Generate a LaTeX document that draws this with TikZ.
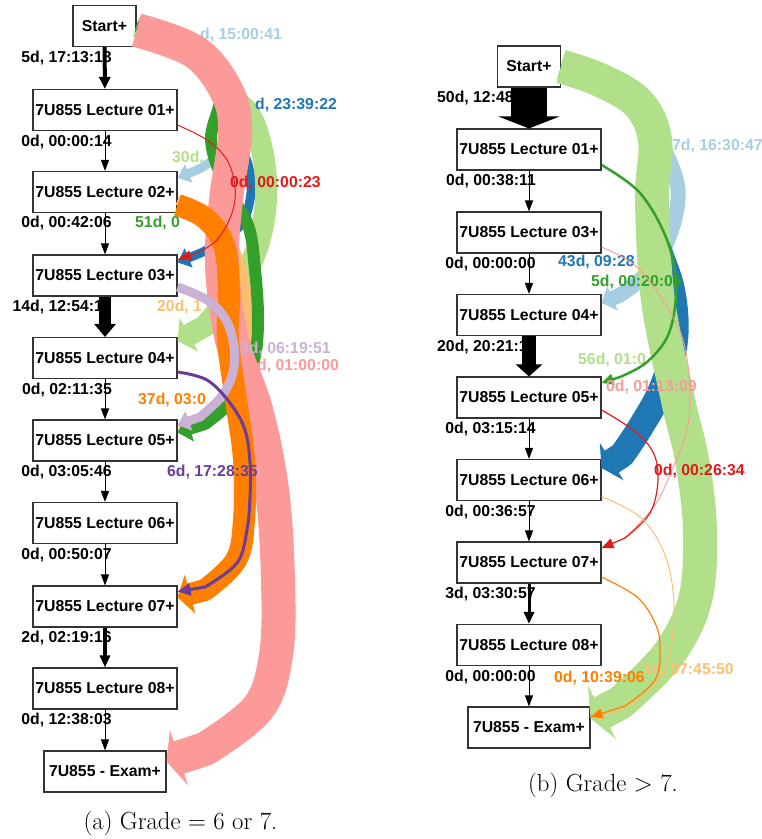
\documentclass[tikz,border=0pt]{standalone}
\usepackage{fontspec}
\newfontfamily\graphfont{Liberation Sans}
\usetikzlibrary{arrows.meta}

\newcommand{\boxfont}{\graphfont\bfseries\fontsize{15.8}{18}\selectfont}

\definecolor{lblue}{HTML}{A6CEE3}
\definecolor{dblue}{HTML}{1F78B4}
\definecolor{lgreen}{HTML}{B2DF8A}
\definecolor{dgreen}{HTML}{33A02C}
\definecolor{pink}{HTML}{FB9A99}
\definecolor{red}{HTML}{E31A1C}
\definecolor{lorange}{HTML}{FDBF6F}
\definecolor{orange}{HTML}{FF7F00}
\definecolor{lpurple}{HTML}{CAB2D6}
\definecolor{purple}{HTML}{6A3D9A}

\begin{document}
\begin{tikzpicture}[x=1pt, y=-1pt,
    box/.style={draw=black!80, line width=1.1pt, fill=white, minimum width=144pt, minimum height=41pt, inner sep=0pt, font=\boxfont},
    elab/.style={inner sep=0pt, font=\boxfont},
    flow/.style={-{Triangle[length=11pt,width=8pt]}, line width=1pt},
    band/.style={line cap=butt, line join=round},
    lane/.style={-{Triangle[length=12pt,width=10pt]}}
]
\useasboundingbox (0,0) rectangle (762,839);

% (a) grade 6 or 7
\node[box, minimum width=63pt] (sa) at (104.5,26) {Start+};
\node[box] (a01) at (105,110) {7U855 Lecture 01+};
\node[box] (a02) at (105,192) {7U855 Lecture 02+};
\node[box] (a03) at (105,275.5) {7U855 Lecture 03+};
\node[box] (a04) at (105,358) {7U855 Lecture 04+};
\node[box] (a05) at (105,440.5) {7U855 Lecture 05+};
\node[box] (a06) at (105,523) {7U855 Lecture 06+};
\node[box] (a07) at (105,606.5) {7U855 Lecture 07+};
\node[box] (a08) at (105,688.5) {7U855 Lecture 08+};
\node[box, minimum width=122pt] (ea) at (105,771.5) {7U855 - Exam+};

% tempos na sequencia principal
\node[elab, anchor=east] (la1) at (112,58) {5d, 17:13:18};
\node[elab, anchor=east] (la2) at (112,142) {0d, 00:00:14};
\node[elab, anchor=east] (la3) at (112,223) {0d, 00:42:06};
\node[elab, anchor=east] (la4) at (112,307) {14d, 12:54:17};
\node[elab, anchor=east] (la5) at (112,390) {0d, 02:11:35};
\node[elab, anchor=east] (la6) at (112,472) {0d, 03:05:46};
\node[elab, anchor=east] (la7) at (112,555) {0d, 00:50:07};
\node[elab, anchor=east] (la8) at (112,638) {2d, 02:19:16};
\node[elab, anchor=east] (la9) at (112,720) {0d, 12:38:03};

\node[elab, anchor=west, text=lblue] (lalb) at (200,35) {d, 15:00:41};

% desvios
\draw[band, lblue, line width=9pt, -{Triangle[length=12pt,width=19pt]}]
  plot[smooth, tension=0.6] coordinates {(sa.east) (195,52) (226,92) (230,128) (214,158) (197,170)} -- ([yshift=14pt]a02.east);
\draw[band, dblue, line width=9pt, -{Triangle[length=12pt,width=20pt]}]
  plot[smooth, tension=0.6] coordinates {(sa.east) (195,52) (226,92) (234,128) (249,168) (250,200) (238,228) (203,252)} -- ([yshift=13pt]a03.east);
\draw[band, lgreen, line width=22pt, -{Triangle[length=13pt,width=38pt]}]
  plot[smooth, tension=0.6] coordinates {(sa.east) (195,52) (226,92) (250,115) (263,155) (266,200) (258,245) (240,282) (205,326)} -- ([yshift=17pt]a04.east);
\draw[band, lorange, line width=10pt, -{Triangle[length=12pt,width=20pt]}]
  plot[smooth, tension=0.6] coordinates {([yshift=-8pt]a02.east) (205,215) (232,245) (246,290) (246,340) (238,385) (205,418)} -- ([yshift=14pt]a05.east);
\draw[band, dgreen, line width=12pt, -{Triangle[length=13pt,width=26pt]}]
  plot[smooth, tension=0.6] coordinates {(sa.east) (195,52) (220,92) (211,140) (225,185) (248,225) (255,270) (258,320) (254,360) (238,395) (205,424)} -- ([yshift=8pt]a05.east);
\draw[band, pink, line width=34pt, -{Triangle[length=13pt,width=58pt]}]
  plot[smooth, tension=0.6] coordinates {([yshift=-4pt]sa.east) (195,52) (227,92) (235,132) (226,200) (222,265) (232,340) (256,410) (272,490) (278,580) (276,655) (258,708) (205,749)} -- ([yshift=10pt]ea.east);

\node[elab, anchor=west, text=dblue] (ladb) at (255,105) {d, 23:39:22};
\node[elab, anchor=west, text=lgreen] (lalg) at (172,158) {30d,};
\node[elab, anchor=west, text=pink] (lapk) at (257,366) {d, 01:00:00};
\node[elab, anchor=west, text=dgreen] (ladg) at (135,223) {51d, 0};

\draw[band, orange, line width=22pt, -{Triangle[length=13pt,width=40pt]}]
  plot[smooth, tension=0.6] coordinates {([yshift=-13pt]a02.east) (205,218) (224,245) (229,290) (228,340) (236,400) (244,460) (244,520) (236,560) (205,590)} -- ([yshift=9pt]a07.east);

\node[elab, anchor=west, text=lorange] (lalo) at (157,307) {20d, 1};
\node[elab, anchor=west, text=orange] (laor) at (138,400) {37d, 03:0};

\draw[band, lpurple, line width=9pt, -{Triangle[length=12pt,width=20pt]}]
  plot[smooth, tension=0.6] coordinates {([yshift=-11.5pt]a03.east) (207,300) (226,320) (234,347) (233,372) (222,396) (200,417)} -- ([yshift=15.5pt]a05.east);
\node[elab, anchor=west, text=lpurple] (lalp) at (240,349) {5d, 06:19:51};

\draw[lane, red, line width=1pt, -{Triangle[length=14pt,width=10pt]}]
  plot[smooth, tension=0.6] coordinates {([yshift=-15pt]a01.east) (207,140) (227,160) (235,187) (232,213) (217,240) (195,254)} -- ([yshift=15.5pt]a03.east);
\node[elab, anchor=west, text=red] (lard) at (230,183) {0d, 00:00:23};
\draw[lane, purple, line width=3pt, -{Triangle[length=13pt,width=12pt]}]
  plot[smooth, tension=0.6] coordinates {([yshift=-14pt]a04.east) (207,380) (230,403) (245,430) (250,463) (250,497) (247,530) (237,563) (205,587)} -- ([yshift=15pt]a07.east);
\node[elab, anchor=west, text=purple] (lapu) at (167,472) {6d, 17:28:35};

\draw[flow, line width=4pt, -{Triangle[length=12pt,width=11pt]}] (sa) -- (a01);
\draw[flow] (a01) -- (a02);
\draw[flow] (a02) -- (a03);
\draw[flow, line width=12pt, -{Triangle[length=13pt,width=21pt]}] (a03) -- (a04);
\draw[flow] (a04) -- (a05);
\draw[flow] (a05) -- (a06);
\draw[flow] (a06) -- (a07);
\draw[flow, line width=3.5pt, -{Triangle[length=12pt,width=10pt]}] (a07) -- (a08);
\draw[flow] (a08) -- (ea);

\node (capa) at (180.5,823) {\fontsize{24.7}{30}\selectfont (a) Grade $=$ 6 or 7.};

% (b) grade > 7
\node[box, minimum width=63pt] (sb) at (529,66.5) {Start+};
\node[box] (b01) at (529,149.5) {7U855 Lecture 01+};
\node[box] (b03) at (529,232.5) {7U855 Lecture 03+};
\node[box] (b04) at (529,315) {7U855 Lecture 04+};
\node[box] (b05) at (529,397.5) {7U855 Lecture 05+};
\node[box] (b06) at (529,480) {7U855 Lecture 06+};
\node[box] (b07) at (529,562.5) {7U855 Lecture 07+};
\node[box] (b08) at (529,645) {7U855 Lecture 08+};
\node[box, minimum width=122pt] (eb) at (529,727.5) {7U855 - Exam+};

\node[elab, anchor=west] (lb1) at (437,98) {50d, 12:48};
\node[elab, anchor=east] (lb2) at (536,181) {0d, 00:38:11};
\node[elab, anchor=east] (lb3) at (536,264) {0d, 00:00:00};
\node[elab, anchor=west] (lb4) at (437,347) {20d, 20:21:1};
\node[elab, anchor=east] (lb5) at (536,429) {0d, 03:15:14};
\node[elab, anchor=east] (lb6) at (536,512) {0d, 00:36:57};
\node[elab, anchor=east] (lb7) at (536,594) {3d, 03:30:57};
\node[elab, anchor=east] (lb8) at (536,677) {0d, 00:00:00};

\node[elab, anchor=west, text=lblue] (lblb) at (672,146) {7d, 16:30:47};
\node[elab, anchor=west, text=dblue] (lbdb) at (558,262) {43d, 09:28};
\node[elab, anchor=west, text=lgreen] (lblg) at (578,360) {56d, 01:0};

\draw[band, lblue, line width=15pt, -{Triangle[length=12pt,width=26pt]}]
  plot[smooth, tension=0.6] coordinates {(sb.east) (600,80) (638,103) (660,140) (678,190) (668,240) (645,275) (620,295)} -- ([yshift=12pt]b04.east);
\draw[band, dblue, line width=26pt, -{Triangle[length=12pt,width=44pt]}]
  plot[smooth, tension=0.6] coordinates {(sb.east) (600,80) (638,103) (655,140) (653,200) (656,240) (672,290) (675,340) (662,388) (640,428) (622,455)} -- ([yshift=12pt]b06.east);
\draw[band, lgreen, line width=34pt, -{Triangle[length=13pt,width=60pt]}]
  plot[smooth, tension=0.6] coordinates {(sb.east) (600,80) (638,103) (655,140) (652,200) (658,300) (678,400) (692,460) (700,530) (695,600) (668,655) (620,703)} -- ([yshift=9pt]eb.east);

\node[elab, anchor=west, text=lorange] (lblo) at (643,670) {1d, 07:45:50};
\draw[lane, dgreen, line width=2.5pt, -{Triangle[length=12pt,width=11pt]}]
  plot[smooth, tension=0.6] coordinates {([yshift=-15.5pt]b01.east) (640,193) (667,240) (676,287) (669,333) (647,362) (620,377)} -- ([yshift=14.5pt]b05.east);
\node[elab, anchor=west, text=dgreen] (lbdg) at (591,282) {5d, 00:20:05};
\draw[lane, pink, line width=0.9pt, -{Triangle[length=12pt,width=9pt]}]
  plot[smooth, tension=0.6] coordinates {([yshift=-14.5pt]b03.east) (637,267) (667,307) (683,340) (690,387) (687,430) (672,470) (655,505) (625,538)} -- ([yshift=14.5pt]b07.east);
\node[elab, anchor=west, text=pink] (lbpk) at (606,387) {0d, 01:13:09};
\draw[lane, red, line width=1.2pt]
  plot[smooth, tension=0.6] coordinates {([yshift=-12.5pt]b05.east) (633,430) (653,452) (658,480) (650,513) (625,538)} -- ([yshift=14.5pt]b07.east);
\node[elab, anchor=west, text=red] (lbrd) at (654,471) {0d, 00:26:34};
\draw[lane, lorange, line width=1pt]
  plot[smooth, tension=0.6] coordinates {([yshift=-16.5pt]b06.east) (640,517) (663,550) (673,590) (673,630) (667,663) (650,690) (620,710)} -- ([yshift=10pt]eb.east);
\draw[lane, orange, line width=1.2pt]
  plot[smooth, tension=0.6] coordinates {([yshift=-14.5pt]b07.east) (637,597) (655,623) (660,647) (655,680) (625,706)} -- ([yshift=10.5pt]eb.east);
\node[elab, anchor=west, text=orange] (lbor) at (554,678) {0d, 10:39:06};

\draw[flow, line width=36pt, -{Triangle[length=12pt,width=61pt]}] (sb) -- (b01);
\draw[flow] (b01) -- (b03);
\draw[flow] (b03) -- (b04);
\draw[flow, line width=14pt, -{Triangle[length=12pt,width=26pt]}] (b04) -- (b05);
\draw[flow] (b05) -- (b06);
\draw[flow] (b06) -- (b07);
\draw[flow, line width=3pt, -{Triangle[length=12pt,width=10pt]}] (b07) -- (b08);
\draw[flow] (b08) -- (eb);

\node (capb) at (603,785) {\fontsize{24.7}{30}\selectfont (b) Grade $>$ 7.};

\end{tikzpicture}
\end{document}
